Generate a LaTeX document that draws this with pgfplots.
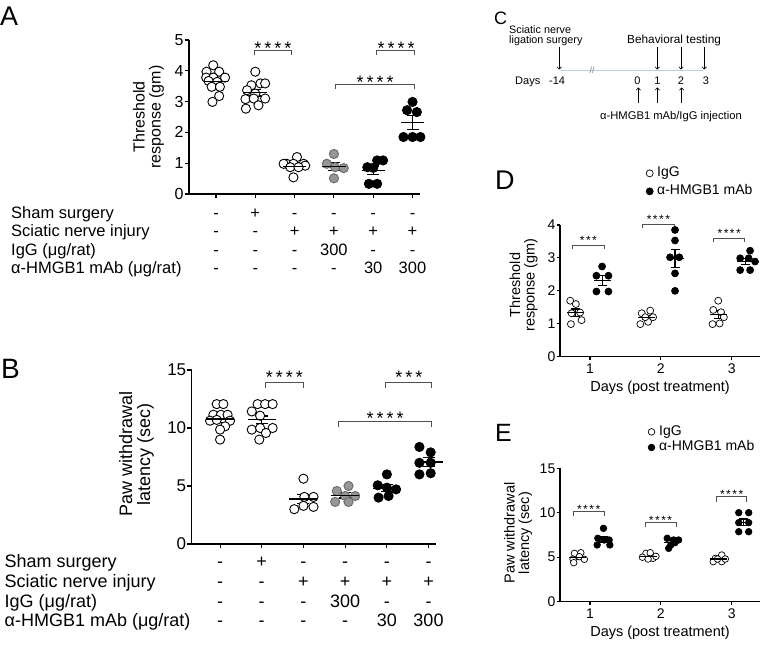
\documentclass[border=0pt]{standalone}
\usepackage{fontspec}
\setmainfont{Liberation Sans}
\usepackage{pgfplots}
\pgfplotsset{compat=1.18}
\usetikzlibrary{arrows.meta}
\newcommand{\fsz}[1]{\fontsize{#1}{#1}\selectfont}
\definecolor{grpgray}{RGB}{150,150,150}
\definecolor{grpgrayd}{RGB}{105,105,105}
\definecolor{brkc}{RGB}{80,80,80}
\definecolor{tline}{RGB}{185,208,232}
\pgfplotsset{
 gp/.style={scale only axis, clip=false, anchor=south west,
   axis x line*=bottom, axis y line*=left,
   axis line style={line width=1.3pt,-},
   tick style={line width=1.1pt,black},
   tick align=outside, major tick length=4.3pt,
   /pgf/number format/assume math mode=true,
   yticklabel style={inner xsep=1pt},
   ylabel style={align=center, anchor=center},
   legend image code/.code={\draw[##1] plot coordinates {(4pt,0pt)};},
 },
 ocirc/.style 2 args={only marks, mark=*, mark size=#1, mark options={fill=white, draw=black, line width=#2}},
 bcirc/.style 2 args={only marks, mark=*, mark size=#1, mark options={fill=black, draw=black, line width=#2}},
 gcirc/.style 2 args={only marks, mark=*, mark size=#1, mark options={fill=grpgray, draw=grpgrayd, line width=#2}},
 msem/.style 2 args={black, only marks, mark=-, mark size=#1, mark options={line width=1.3pt}, forget plot,
   error bars/.cd, y dir=both, y explicit, error mark=|, error bar style={line width=1.2pt, black},
   error mark options={line width=1.2pt, mark size=#2, black}},
 brk/.style={brkc, line width=0.9pt, forget plot, mark=none},
}
\newcommand{\rowvals}[9]{\foreach \v [count=\i from 0] in {#4,#5,#6,#7,#8,#9} {\node[anchor=base, inner sep=0pt] at ({#1pt+#2pt*\i}, #3pt) {\v};}}
\begin{document}
\begin{tikzpicture}[x=1pt,y=1pt]
\path[use as bounding box] (0,0) rectangle (762,649);

% ---------------- Panel A ----------------
\node[anchor=base west, inner sep=0pt, font=\fsz{27}] at (0,623.5) {A};
\begin{axis}[gp, at={(189pt,455pt)}, width=231pt, height=154pt,
  xmin=0.313, xmax=6.19, ymin=0, ymax=5,
  xtick={1,2,3,4,5,6}, xticklabels={}, ytick={0,1,2,3,4,5},
  yticklabel style={font=\fsz{16}},
  ylabel={Threshold\\response (gm)},
  ylabel style={font=\fsz{16}, at={(axis description cs:-0.175,0.5)}}]
\addplot[ocirc={4.6pt}{0.9pt}] table {
x y
0.93 4.18
0.76 3.97
1.08 3.97
0.75 3.78
0.93 3.78
1.23 3.78
0.81 3.67
1.03 3.64
0.89 3.48
1.10 3.48
1.08 3.18
0.91 2.99
2.00 3.97
1.90 3.53
2.13 3.59
2.25 3.59
1.79 3.37
2.00 3.26
1.75 3.08
1.96 3.10
2.25 3.10
1.76 2.77
2.08 2.88
3.06 1.20
2.80 0.98
2.97 0.98
3.23 0.98
2.72 0.98
3.27 0.92
2.89 0.87
3.10 0.87
2.97 0.54
};
\addplot[gcirc={4.6pt}{0.9pt}] table {
x y
4.00 1.30
3.82 0.98
4.03 0.87
4.25 0.84
4.00 0.51
};
\addplot[bcirc={4.6pt}{0.9pt}] table {
x y
4.85 0.87
5.00 0.85
5.10 1.09
5.25 1.09
4.89 0.33
5.10 0.33
6.00 2.99
5.86 2.72
6.11 2.66
5.77 1.85
6.00 1.85
6.20 1.85
};
\addplot[msem={11.7pt}{6pt}] table[x=x,y=m,y error=s] {
x m s
1 3.66 0.10
2 3.29 0.11
3 0.90 0.06
4 0.90 0.13
5 0.77 0.14
6 2.32 0.22
};
\addplot[brk] coordinates {(1.97,4.51) (1.97,4.65) (2.93,4.65) (2.93,4.51)};
\addplot[brk] coordinates {(5.09,4.51) (5.09,4.65) (6.06,4.65) (6.06,4.51)};
\addplot[brk] coordinates {(4.03,3.41) (4.03,3.57) (6.06,3.57) (6.06,3.41)};
\node[anchor=base, inner sep=0pt, font=\fsz{18}] at (axis cs:2.45,4.53) {*\kern3pt*\kern3pt*\kern3pt*};
\node[anchor=base, inner sep=0pt, font=\fsz{18}] at (axis cs:5.58,4.53) {*\kern3pt*\kern3pt*\kern3pt*};
\node[anchor=base, inner sep=0pt, font=\fsz{18}] at (axis cs:5.05,3.42) {*\kern3pt*\kern3pt*\kern3pt*};
\end{axis}
\begin{scope}[font=\fsz{16.5}]
\node[anchor=base west, inner sep=0pt] at (11,430.7) {Sham surgery};
\node[anchor=base west, inner sep=0pt] at (11,412.3) {Sciatic nerve injury};
\node[anchor=base west, inner sep=0pt] at (11,394) {IgG (μg/rat)};
\node[anchor=base west, inner sep=0pt] at (11,375.7) {α-HMGB1 mAb (μg/rat)};
\rowvals{216}{39.3}{430.7}{-}{+}{-}{-}{-}{-}
\rowvals{216}{39.3}{412.3}{-}{-}{+}{+}{+}{+}
\rowvals{216}{39.3}{394}{-}{-}{-}{300}{-}{-}
\rowvals{216}{39.3}{375.7}{-}{-}{-}{-}{30}{300}
\end{scope}

% ---------------- Panel B ----------------
\node[anchor=base west, inner sep=0pt, font=\fsz{28}] at (1,270.7) {B};
\begin{axis}[gp, at={(191.7pt,105pt)}, width=244.4pt, height=174pt,
  xmin=0.32, xmax=6.18, ymin=0, ymax=15,
  xtick={1,2,3,4,5,6}, xticklabels={}, ytick={0,5,10,15},
  yticklabel style={font=\fsz{17}},
  ylabel={Paw withdrawal\\latency (sec)},
  ylabel style={font=\fsz{18}, at={(axis description cs:-0.226,0.517)}}]
\addplot[ocirc={4.6pt}{0.9pt}] table {
x y
0.92 12.06
1.08 12.06
0.84 11.14
1.02 11.14
1.18 11.14
0.76 10.63
1.24 10.63
0.92 10.70
1.12 10.14
1.00 9.86
1.00 9.00
1.90 12.06
2.08 12.06
2.26 12.06
1.76 11.43
1.96 11.06
1.76 9.86
1.96 10.00
2.26 10.00
2.10 9.57
1.94 9.00
3.00 5.63
3.24 4.06
3.02 4.06
2.78 3.00
3.00 3.29
3.24 3.20
};
\addplot[gcirc={4.6pt}{0.9pt}] table {
x y
4.08 5.00
3.80 4.57
4.00 4.14
4.24 4.14
3.76 3.63
4.08 3.63
};
\addplot[bcirc={4.6pt}{0.9pt}] table {
x y
5.00 6.00
4.78 5.06
5.00 4.86
5.22 4.71
4.80 4.00
5.04 4.14
5.78 8.37
6.05 7.90
5.78 7.00
6.05 7.00
5.78 6.00
6.05 6.10
};
\addplot[msem={14pt}{6pt}] table[x=x,y=m,y error=s] {
x m s
1 10.77 0.28
2 10.71 0.33
3 3.87 0.40
4 4.19 0.22
5 4.80 0.30
6 7.06 0.37
};
\addplot[brk] coordinates {(2.08,13.45) (2.08,13.9) (3.01,13.9) (3.01,13.45)};
\addplot[brk] coordinates {(4.97,13.45) (4.97,13.9) (6.08,13.9) (6.08,13.45)};
\addplot[brk] coordinates {(3.83,10.11) (3.83,10.54) (6.08,10.54) (6.08,10.11)};
\node[anchor=base, inner sep=0pt, font=\fsz{18}] at (axis cs:2.54,13.87) {*\kern3pt*\kern3pt*\kern3pt*};
\node[anchor=base, inner sep=0pt, font=\fsz{18}] at (axis cs:5.53,13.87) {*\kern3pt*\kern3pt*};
\node[anchor=base, inner sep=0pt, font=\fsz{18}] at (axis cs:4.96,10.31) {*\kern3pt*\kern3pt*\kern3pt*};
\end{axis}
\begin{scope}[font=\fsz{18}]
\node[anchor=base west, inner sep=0pt] at (4.5,81.5) {Sham surgery};
\node[anchor=base west, inner sep=0pt] at (4.5,61.5) {Sciatic nerve injury};
\node[anchor=base west, inner sep=0pt] at (4.5,41.7) {IgG (μg/rat)};
\node[anchor=base west, inner sep=0pt] at (4.5,22.3) {α-HMGB1 mAb (μg/rat)};
\rowvals{220}{41.7}{81.5}{-}{+}{-}{-}{-}{-}
\rowvals{220}{41.7}{61.5}{-}{-}{+}{+}{+}{+}
\rowvals{220}{41.7}{41.7}{-}{-}{-}{300}{-}{-}
\rowvals{220}{41.7}{22.3}{-}{-}{-}{-}{30}{300}
\end{scope}

% ---------------- Panel C ----------------
\begin{scope}[font=\fsz{11}]
\node[anchor=base west, inner sep=0pt, font=\fsz{18}] at (494,624) {C};
\node[anchor=base west, inner sep=0pt, font=\fsz{10.8}] at (509,615.5) {Sciatic nerve};
\node[anchor=base west, inner sep=0pt, font=\fsz{10.8}] at (509,605.5) {ligation surgery};
\node[anchor=base west, inner sep=0pt, font=\fsz{11.8}] at (627,605.5) {Behavioral testing};
\draw[tline, line width=1.5pt] (560,578.3) -- (703,578.3);
\node[inner sep=0pt, text=gray, font=\fsz{9}] at (592,578.8) {//};
\foreach \xx in {559.3,657.3,681,704.3} \draw[line width=0.6pt, -{To[length=3pt,width=5pt]}] (\xx,602) -- (\xx,579.5);
\node[anchor=base west, inner sep=0pt] at (515,564) {Days};
\node[anchor=base west, inner sep=0pt] at (549,564) {-14};
\node[anchor=base, inner sep=0pt] at (637.5,564) {0};
\node[anchor=base, inner sep=0pt] at (657.3,564) {1};
\node[anchor=base, inner sep=0pt] at (681,564) {2};
\node[anchor=base, inner sep=0pt] at (706,564) {3};
\foreach \xx in {638.3,657.3,681.7} \draw[line width=0.6pt, -{To[length=3pt,width=5pt]}] (\xx,546) -- (\xx,561.5);
\node[anchor=base west, inner sep=0pt, font=\fsz{11.2}] at (600,529.5) {α-HMGB1 mAb/IgG injection};
\end{scope}

% ---------------- Panel D ----------------
\node[anchor=base west, inner sep=0pt, font=\fsz{27}] at (495,459) {D};
\begin{axis}[gp, at={(560pt,292.3pt)}, width=200pt, height=131.7pt,
  xmin=0.576, xmax=3.4, ymin=0, ymax=4, major tick length=3.5pt,
  xtick={1,2,3}, ytick={0,1,2,3,4},
  ticklabel style={font=\fsz{14}},
  xlabel={Days (post treatment)},
  xlabel style={font=\fsz{14.5}, at={(axis description cs:0.5,-0.238)}, anchor=center},
  ylabel={Threshold\\response (gm)},
  ylabel style={font=\fsz{14.5}, at={(axis description cs:-0.1825,0.544)}},
  legend style={draw=none, fill=none, at={(axis description cs:0.43,1.462)}, anchor=north west,
    font=\fsz{14}, inner sep=0pt, row sep=0pt, column sep=1.5pt, nodes={text height=10pt, text depth=3pt, inner sep=2.5pt}},
  legend cell align=left]
\addplot[ocirc={3.5pt}{0.7pt}] table {
x y
0.72 1.70
0.80 1.60
0.86 1.34
0.74 1.32
0.88 1.11
0.73 0.99
1.73 1.32
1.85 1.40
1.71 0.99
1.82 1.06
1.89 1.20
1.78 1.20
2.81 1.70
2.74 1.42
2.85 1.35
2.89 1.20
2.73 0.99
2.83 1.01
};
\addlegendentry{IgG}
\addplot[bcirc={3.5pt}{0.7pt}] table {
x y
1.17 2.74
1.09 2.46
1.26 2.46
1.09 1.98
1.26 1.98
2.20 3.85
2.20 3.53
2.13 3.02
2.26 3.02
2.20 2.53
2.20 2.00
3.26 3.22
3.12 2.99
3.24 2.99
3.33 2.89
3.12 2.63
3.26 2.63
};
\addlegendentry{α-HMGB1 mAb}
\addplot[msem={8.5pt}{4.5pt}] table[x=x,y=m,y error=s] {
x m s
0.80 1.34 0.11
1.80 1.20 0.06
2.81 1.28 0.11
1.18 2.32 0.15
2.20 2.99 0.27
3.20 2.89 0.10
};
\addplot[brk, line width=0.7pt] coordinates {(0.756,3.26) (0.756,3.39) (1.198,3.39) (1.198,3.26)};
\addplot[brk, line width=0.7pt] coordinates {(1.744,3.90) (1.744,4.03) (2.186,4.03) (2.186,3.90)};
\addplot[brk, line width=0.7pt] coordinates {(2.746,3.47) (2.746,3.60) (3.184,3.60) (3.184,3.47)};
\node[anchor=base, inner sep=0pt, font=\fsz{12}] at (axis cs:0.977,3.41) {*\kern1.5pt*\kern1.5pt*};
\node[anchor=base, inner sep=0pt, font=\fsz{12}] at (axis cs:1.965,4.05) {*\kern1.5pt*\kern1.5pt*\kern1.5pt*};
\node[anchor=base, inner sep=0pt, font=\fsz{12}] at (axis cs:2.965,3.62) {*\kern1.5pt*\kern1.5pt*\kern1.5pt*};
\end{axis}

% ---------------- Panel E ----------------
\node[anchor=base west, inner sep=0pt, font=\fsz{25}] at (495,207.3) {E};
\begin{axis}[gp, at={(560pt,47.3pt)}, width=200pt, height=133.4pt,
  xmin=0.576, xmax=3.4, ymin=0, ymax=15, major tick length=3.5pt,
  xtick={1,2,3}, ytick={0,5,10,15},
  ticklabel style={font=\fsz{14}},
  xlabel={Days (post treatment)},
  xlabel style={font=\fsz{14.5}, at={(axis description cs:0.5,-0.235)}, anchor=center},
  ylabel={Paw withdrawal\\latency (sec)},
  ylabel style={font=\fsz{14.5}, at={(axis description cs:-0.21,0.515)}},
  legend style={draw=none, fill=none, at={(axis description cs:0.44,1.333)}, anchor=north west,
    font=\fsz{14}, inner sep=0pt, row sep=0pt, column sep=3pt, nodes={text height=10pt, text depth=3pt, inner sep=1.3pt}},
  legend cell align=left]
\addplot[ocirc={3.3pt}{0.7pt}] table {
x y
0.78 5.44
0.87 5.51
0.76 4.77
0.85 5.06
0.92 4.77
0.77 4.39
1.79 5.44
1.85 5.51
1.74 5.00
1.89 4.88
1.82 4.80
1.93 5.10
2.86 5.25
2.77 4.88
2.74 4.50
2.86 4.50
2.80 4.80
2.91 4.80
};
\addlegendentry{IgG}
\addplot[bcirc={3.3pt}{0.7pt}] table {
x y
1.19 8.25
1.11 7.13
1.20 6.94
1.27 6.94
1.10 6.38
1.28 6.38
2.09 7.13
2.25 6.94
2.18 6.94
2.14 6.38
2.11 6.00
2.20 6.64
3.10 10.01
3.24 10.01
3.10 8.89
3.24 8.89
3.10 7.87
3.24 7.87
};
\addlegendentry{α-HMGB1 mAb}
\addplot[msem={8.5pt}{4.5pt}] table[x=x,y=m,y error=s] {
x m s
0.83 4.99 0.18
1.83 5.12 0.11
2.82 4.79 0.11
1.19 7.00 0.28
2.17 6.67 0.18
3.17 8.92 0.37
};
\addplot[brk, line width=0.7pt] coordinates {(0.765,9.64) (0.765,10.12) (1.198,10.12) (1.198,9.64)};
\addplot[brk, line width=0.7pt] coordinates {(1.777,8.44) (1.777,8.89) (2.215,8.89) (2.215,8.44)};
\addplot[brk, line width=0.7pt] coordinates {(2.79,11.25) (2.79,11.81) (3.213,11.81) (3.213,11.25)};
\node[anchor=base, inner sep=0pt, font=\fsz{12}] at (axis cs:0.98,9.95) {*\kern1.5pt*\kern1.5pt*\kern1.5pt*};
\node[anchor=base, inner sep=0pt, font=\fsz{12}] at (axis cs:1.996,8.70) {*\kern1.5pt*\kern1.5pt*\kern1.5pt*};
\node[anchor=base, inner sep=0pt, font=\fsz{12}] at (axis cs:3.0,11.62) {*\kern1.5pt*\kern1.5pt*\kern1.5pt*};
\end{axis}
\end{tikzpicture}
\end{document}
